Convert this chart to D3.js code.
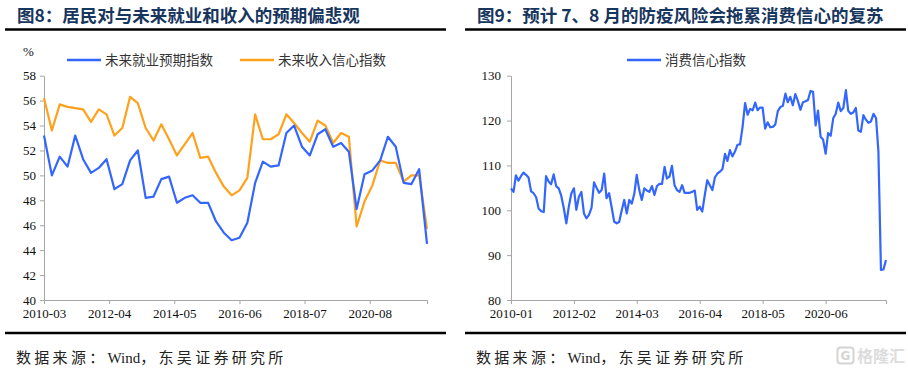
<!DOCTYPE html>
<html>
<head>
<meta charset="utf-8">
<script src="https://cdn.jsdelivr.net/npm/d3@7"></script>
<style>
  body { margin: 0; background: #fff; }
  svg { display: block; }
</style>
</head>
<body>
<div class="chart"></div>
<script>
// ---- data: figure 8 (quarterly, PBOC depositor survey) ----
var quarterStart = "2010-03";
var employIndex = [53.2, 50.0, 51.5, 50.7, 53.2, 51.3, 50.2, 50.6, 51.3, 48.9,
  49.3, 51.2, 52.0, 48.2, 48.3, 49.7, 49.9, 47.8, 48.2, 48.4,
  47.8, 47.8, 46.3, 45.4, 44.8, 45.0, 46.2, 49.4, 51.1, 50.7,
  50.8, 53.4, 54.0, 52.3, 51.6, 53.3, 53.7, 52.3, 52.6, 51.9,
  47.3, 50.1, 50.4, 51.2, 53.1, 52.3, 49.4, 49.3, 50.5, 44.5];
var incomeIndex = [56.2, 53.6, 55.7, 55.5, 55.4, 55.3, 54.3, 55.3, 54.9, 53.2,
  53.8, 56.3, 55.8, 53.8, 52.8, 54.1, 52.9, 51.6, 52.5, 53.4,
  51.4, 51.5, 50.2, 49.1, 48.4, 48.8, 49.8, 54.9, 52.9, 52.9,
  53.3, 54.9, 54.2, 53.4, 52.7, 54.4, 54.0, 52.6, 53.4, 53.1,
  45.9, 47.9, 49.2, 51.2, 51.0, 51.0, 49.5, 50.0, 50.0, 45.7];
var ticks8 = ["2010-03", "2012-04", "2014-05", "2016-06", "2018-07", "2020-08"];
var yTicks8 = [40, 42, 44, 46, 48, 50, 52, 54, 56, 58];

// ---- data: figure 9 (monthly consumer confidence) ----
var monthStart = "2010-01";
var confidence = [
  104.9, 104.1, 107.8, 106.6, 107.6, 108.4, 107.9, 107.3, 104.2, 103.8, 102.9, 100.4,
  99.8, 99.6, 107.6, 106.4, 105.8, 108.0, 105.4, 104.9, 103.2, 100.5, 97.1, 100.8,
  103.8, 104.9, 100.1, 103.0, 104.1, 99.3, 98.2, 99.0, 100.6, 106.2, 105.0, 103.9,
  104.5, 108.2, 102.7, 103.8, 100.8, 97.5, 97.1, 97.4, 100.0, 102.3, 99.3, 102.3,
  101.5, 103.8, 107.9, 104.5, 102.3, 104.9, 104.4, 104.1, 105.4, 103.4, 105.4, 105.9,
  105.9, 109.7, 107.1, 107.5, 109.9, 105.6, 104.5, 104.1, 105.6, 103.9, 103.9, 103.9,
  104.1, 104.4, 100.1, 100.8, 99.7, 103.4, 106.7, 105.6, 104.5, 107.3, 108.2, 108.6,
  109.2, 112.6, 111.0, 113.4, 112.0, 113.1, 114.6, 114.7, 118.6, 123.9, 121.3, 122.6,
  122.3, 124.0, 122.3, 122.9, 122.9, 118.2, 119.6, 118.5, 118.6, 119.1, 122.1, 123.0,
  123.3, 126.0, 124.1, 125.3, 123.4, 125.9, 124.4, 122.4, 124.1, 124.3, 124.6, 126.6,
  126.4, 118.9, 122.2, 116.4, 115.8, 112.6, 117.2, 116.6, 120.5, 121.5, 124.0, 122.1,
  122.8, 126.8, 122.2, 121.5, 121.8, 122.8, 117.8, 117.5, 121.2, 120.2, 119.5, 119.8,
  121.5, 120.5, 113.2, 86.7, 86.8, 88.9];
var ticks9 = ["2010-01", "2012-02", "2014-03", "2016-04", "2018-05", "2020-06"];
var yTicks9 = [80, 90, 100, 110, 120, 130];

var parseMonth = d3.timeParse("%Y-%m");
var fmtMonth = d3.timeFormat("%Y-%m");

function dateSeries(start, stepMonths, n) {
  var out = [];
  for (var i = 0; i < n; i++) out.push(d3.timeMonth.offset(parseMonth(start), i * stepMonths));
  return out;
}
var quarters = dateSeries(quarterStart, 3, employIndex.length);
var months = dateSeries(monthStart, 1, confidence.length);

var blue = "#3366ff", orange = "#ffa11c", navy = "#17365d";
var cjk = "'Noto Sans CJK SC', sans-serif";
var serif = "'Liberation Serif', 'Times New Roman', serif";
var serifCjk = "'Liberation Serif', 'Noto Sans CJK SC', serif";

var svg = d3.select(".chart").append("svg")
  .attr("width", 908).attr("height", 373);

svg.append("rect").attr("width", 908).attr("height", 373).attr("fill", "#fff");

// frame: title, rules, source
function frame(x0, x1, titleX, title) {
  svg.append("text")
    .attr("x", titleX).attr("y", 21.5)
    .style("font-family", cjk).style("font-weight", 700)
    .style("font-size", "17.5px").attr("fill", navy)
    .text(title);
  svg.append("line").attr("x1", x0).attr("x2", x1).attr("y1", 29.5).attr("y2", 29.5)
    .attr("stroke", "#000").attr("stroke-width", 2.5);
  svg.append("line").attr("x1", x0).attr("x2", x1).attr("y1", 333).attr("y2", 333)
    .attr("stroke", "#000").attr("stroke-width", 2.5);
  var src = svg.append("text")
    .attr("x", titleX - 1).attr("y", 363)
    .style("font-family", serifCjk).style("font-size", "15px").attr("fill", "#222");
  src.append("tspan").style("letter-spacing", "3.3px").text("数据来源：");
  src.append("tspan").style("letter-spacing", "0px").text("Wind");
  src.append("tspan").style("letter-spacing", "3.3px").text("，东吴证券研究所");
}

function legendItem(x, y, color, label) {
  svg.append("line").attr("x1", x).attr("x2", x + 34).attr("y1", y).attr("y2", y)
    .attr("stroke", color).attr("stroke-width", 2.5);
  svg.append("text").attr("x", x + 38).attr("y", y).attr("dy", "0.36em")
    .style("font-family", cjk).style("font-size", "13.5px").attr("fill", "#333")
    .text(label);
}

function styleAxis(g) {
  g.select(".domain").attr("stroke", "#a6a6a6");
  g.selectAll(".tick line").attr("stroke", "#a6a6a6");
  g.selectAll("text")
    .style("font-family", serif).style("font-size", "13px").attr("fill", "#111");
}

function axes(x, y, xt, yt, pad) {
  svg.append("g")
    .attr("transform", "translate(0," + y.range()[0] + ")")
    .call(d3.axisBottom(x).tickValues(xt.map(parseMonth)).tickFormat(fmtMonth)
      .tickSize(4).tickSizeOuter(4).tickPadding(5))
    .call(styleAxis);
  svg.append("g")
    .attr("transform", "translate(" + x.range()[0] + ",0)")
    .call(d3.axisLeft(y).tickValues(yt).tickSize(4).tickSizeOuter(0).tickPadding(pad))
    .call(styleAxis);
}

function drawLine(x, y, dates, values, color) {
  var line = d3.line()
    .x(function(d, i) { return x(dates[i]); })
    .y(function(d) { return y(d); });
  svg.append("path").datum(values)
    .attr("fill", "none").attr("stroke", color)
    .attr("stroke-width", 2.2).attr("stroke-linejoin", "round")
    .attr("d", line);
}

//---------------- figure 8 ----------------
frame(5, 446, 17, "图8：居民对与未来就业和收入的预期偏悲观");

var x8 = d3.scaleTime().domain([quarters[0], quarters[quarters.length - 1]]).range([44, 427]);
var y8 = d3.scaleLinear().domain([40, 58]).range([300, 75.7]);
axes(x8, y8, ticks8, yTicks8, 4);

svg.append("text").attr("x", 23).attr("y", 56)
  .style("font-family", serif).style("font-size", "13px")
  .attr("fill", "#111").text("%");

legendItem(67, 60, blue, "未来就业预期指数");
legendItem(240, 60, orange, "未来收入信心指数");

drawLine(x8, y8, quarters, incomeIndex, orange);
drawLine(x8, y8, quarters, employIndex, blue);

//---------------- figure 9 ----------------
frame(465, 906, 477, "图9：预计 7、8 月的防疫风险会拖累消费信心的复苏");

var x9 = d3.scaleTime().domain([months[0], months[months.length - 1]]).range([511, 886]);
var y9 = d3.scaleLinear().domain([80, 130]).range([300, 75.7]);
axes(x9, y9, ticks9, yTicks9, 6);

legendItem(627, 60, blue, "消费信心指数");
drawLine(x9, y9, months, confidence, blue);

// watermark
var wm = svg.append("g").attr("transform", "translate(837,347)");
wm.append("rect").attr("x", 0.5).attr("y", 0.5).attr("width", 16).attr("height", 16).attr("rx", 3)
  .attr("fill", "none").attr("stroke", "#d4d4d4").attr("stroke-width", 2);
wm.append("text").attr("x", 8.5).attr("y", 13).attr("text-anchor", "middle")
  .style("font-family", "'DejaVu Sans', sans-serif").style("font-weight", 700)
  .style("font-size", "12px").attr("fill", "#d4d4d4").text("G");
wm.append("text").attr("x", 20).attr("y", 14.5)
  .style("font-family", cjk).style("font-weight", 700)
  .style("font-size", "16px").attr("fill", "#dcdcdc").text("格隆汇");
</script>
</body>
</html>
